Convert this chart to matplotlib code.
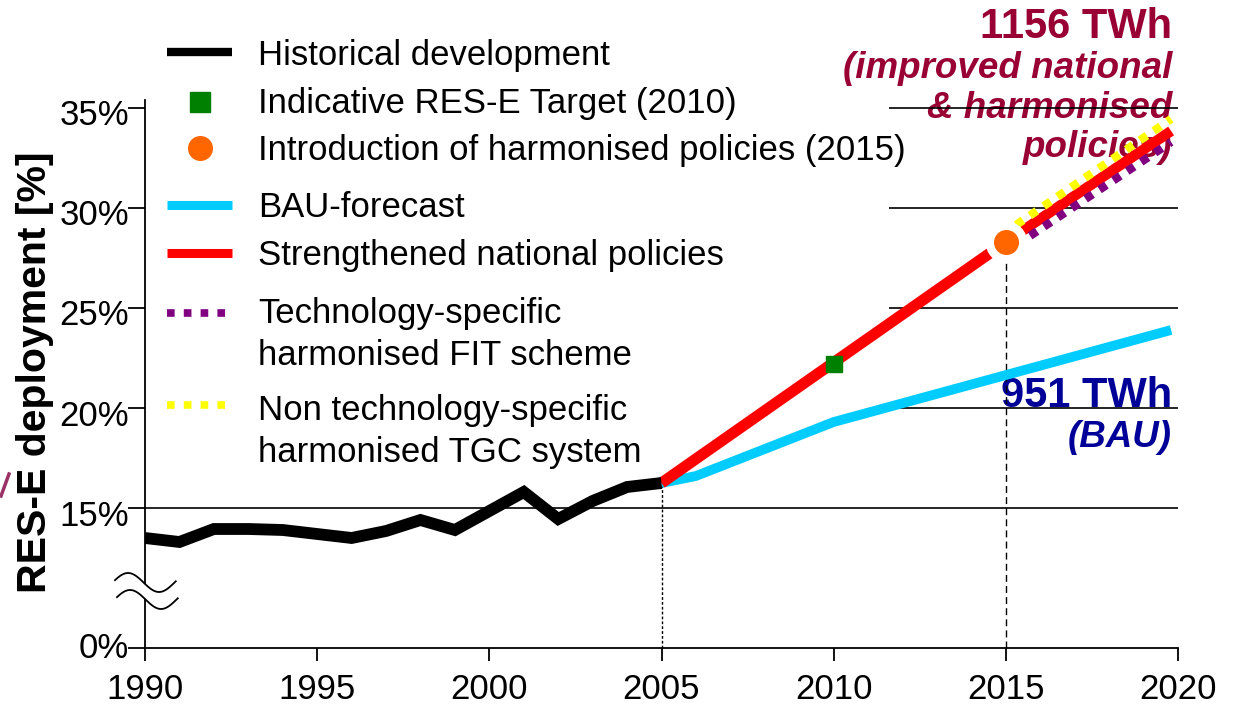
import numpy as np
import matplotlib
matplotlib.use("Agg")
import matplotlib.pyplot as plt
from matplotlib.lines import Line2D
import matplotlib.transforms as mtransforms

plt.rcParams['font.family'] = ['Liberation Sans', 'DejaVu Sans']

# ---------------- data ----------------
hist_years = [1990, 1991, 1992, 1993, 1994, 1995, 1996, 1997, 1998, 1999,
              2000, 2001, 2002, 2003, 2004, 2005]
hist_values = [13.5, 13.3, 13.95, 13.95, 13.9, 13.7, 13.5, 13.85, 14.4, 13.9,
               14.85, 15.8, 14.45, 15.35, 16.05, 16.25]

bau_years = [2005, 2006, 2010, 2019.8]
bau_values = [16.25, 16.6, 19.3, 23.9]

strength_years = [2005, 2015]
strength_values = [16.25, 28.3]

harm_years = [2015, 2019.8]
national_after = [28.3, 33.85]
fit_values = [27.8, 33.3]
tgc_values = [28.8, 34.45]

target_year = [2010]
target_value = [22.2]

intro_year = [2015]
intro_value = [28.3]

xticks = [1990, 1995, 2000, 2005, 2010, 2015, 2020]
ytick_pos = [8, 15, 20, 25, 30, 35]       # 8 = position of 0% after the axis break
ytick_labels = ['0%', '15%', '20%', '25%', '30%', '35%']
grid_levels = [15, 20, 25, 30, 35]
grid_start = [1990, 2011.6, 2011.6, 2011.6, 2011.6]

legend_labels = ['Historical development',
                 'Indicative RES-E Target (2010)',
                 'Introduction of harmonised policies (2015)',
                 'BAU-forecast',
                 'Strengthened national policies',
                 'Technology-specific\nharmonised FIT scheme',
                 'Non technology-specific\nharmonised TGC system']

# ---------------- figure ----------------
W, H = 1236, 710
fig = plt.figure(figsize=(W / 100, H / 100), dpi=100)

def fx(x):
    return x / W

def fy(y):
    return 1 - y / H

ax = fig.add_axes([fx(145), fy(648), (1178 - 145) / W, (648 - 100) / H])
ax.set_xlim(1990, 2020)
ax.set_ylim(8, 35.4)

for s in ['top', 'right']:
    ax.spines[s].set_visible(False)
for s in ['left', 'bottom']:
    ax.spines[s].set_linewidth(1.3)
    ax.spines[s].set_color('black')

ax.set_xticks(xticks)
ax.set_xticklabels([str(x) for x in xticks])
ax.tick_params(axis='x', length=9, width=1.3, pad=9, labelsize=25, direction='out')
ax.set_yticks(ytick_pos)
ax.set_yticklabels([])
ax.tick_params(axis='y', length=12, width=1.3, direction='out')

# y tick labels (shifted like the reference)
for p, lab in zip(ytick_pos, ytick_labels):
    dy = 0 if p == 8 else -8 / 100
    off = mtransforms.ScaledTranslation(-16 / 100, dy, fig.dpi_scale_trans)
    ax.text(0, p, lab, transform=ax.get_yaxis_transform() + off,
            ha='right', va='center', fontsize=25, clip_on=False)

# gridlines
for lvl, xs in zip(grid_levels, grid_start):
    ax.plot([xs, 2020], [lvl, lvl], color='black', lw=1.2, zorder=2,
            solid_capstyle='butt')

# vertical guide lines
ax.plot([hist_years[-1]] * 2, [8, hist_values[-1]], color='black', lw=1,
        linestyle=(0, (2, 1.5)), zorder=2)
ax.plot([intro_year[0]] * 2, [8, intro_value[0]], color='black', lw=1,
        linestyle=(0, (5, 3)), zorder=2)

# series
ax.plot(bau_years, bau_values, color='#00CCFF', lw=7, zorder=3,
        solid_capstyle='butt')
ax.plot(strength_years, strength_values, color='#FF0000', lw=8, zorder=4,
        solid_capstyle='butt')
ax.plot(harm_years, national_after, color='#FF0000', lw=7.5, zorder=4,
        solid_capstyle='butt')
ax.plot(harm_years, fit_values, color='#800080', lw=6, zorder=5,
        linestyle=(0.5, (1, 1)), dash_capstyle='butt')
ax.plot(harm_years, tgc_values, color='#FFFF00', lw=6, zorder=5,
        linestyle=(0.5, (1, 1)), dash_capstyle='butt')
ax.plot(hist_years, hist_values, color='black', lw=8.5, zorder=6,
        solid_capstyle='butt', solid_joinstyle='miter')

ax.plot(target_year, target_value, linestyle='none', marker='s', ms=12,
        color='#008000', zorder=7)
ax.plot(intro_year, intro_value, linestyle='none', marker='o', ms=29,
        color='white', zorder=7)
ax.plot(intro_year, intro_value, linestyle='none', marker='o', ms=17,
        color='#FF6600', zorder=8)

# axis break symbol (drawn in figure pixels)
t = np.linspace(0, 0.98, 80)
bx = 115 + 62 * t
by1 = 582.5 - 9.5 * np.sin(2 * np.pi * t + 0.25)
by2 = by1 + 17
fig.patches.append(plt.Polygon(
    np.column_stack([np.concatenate([fx(bx), fx(bx[::-1] + 2)]),
                     np.concatenate([fy(by1), fy(by2[::-1])])]),
    closed=True, facecolor='white', edgecolor='none',
    transform=fig.transFigure, zorder=10))
fig.add_artist(Line2D(fx(bx), fy(by1), color='black', lw=1.3, zorder=11))
fig.add_artist(Line2D(fx(bx + 2), fy(by2), color='black', lw=1.3, zorder=11))

# y label
fig.text(fx(35), fy(372), 'RES-E deployment [%]', rotation=90, ha='center',
         va='center', fontsize=29.5, fontweight='bold')

# stray mark at the left edge
fig.add_artist(Line2D([fx(1), fx(9)], [fy(496), fy(474)], color='#993366',
                      lw=2.5))

# legend (manual)
hx0, hx1, tx = 167, 232, 258
fig.add_artist(Line2D([fx(hx0), fx(hx1)], [fy(52)] * 2, color='black', lw=6,
                      solid_capstyle='butt'))
fig.add_artist(Line2D([fx(200)], [fy(102)], marker='s', ms=14, color='#008000',
                      linestyle='none'))
fig.add_artist(Line2D([fx(200)], [fy(148)], marker='o', ms=17, color='#FF6600',
                      linestyle='none'))
fig.add_artist(Line2D([fx(hx0), fx(hx1)], [fy(205)] * 2, color='#00CCFF', lw=6.5,
                      solid_capstyle='butt'))
fig.add_artist(Line2D([fx(hx0), fx(hx1)], [fy(253)] * 2, color='#FF0000', lw=6.5,
                      solid_capstyle='butt'))
fig.add_artist(Line2D([fx(hx0), fx(hx1)], [fy(313)] * 2, color='#800080', lw=5.5,
                      linestyle=(0, (1, 1.2)), dash_capstyle='butt'))
fig.add_artist(Line2D([fx(hx0), fx(hx1)], [fy(405)] * 2, color='#FFFF00', lw=5.5,
                      linestyle=(0, (1, 1.2)), dash_capstyle='butt'))

baselines = [65, 113, 160, 217, 265, 323, 420]
for lab, b in zip(legend_labels, baselines):
    lines = lab.split('\n')
    for i, ln in enumerate(lines):
        fig.text(fx(tx), fy(b + i * 42), ln, fontsize=25, ha='left',
                 va='baseline')

# annotations
crim = '#990033'
fig.text(fx(1172), fy(38), '1156 TWh', color=crim, fontsize=30,
         fontweight='bold', ha='right', va='baseline', zorder=1)
for txt, b in zip(['(improved national', '& harmonised', 'policies)'],
                  [78, 118, 157]):
    fig.text(fx(1172), fy(b), txt, color=crim, fontsize=26.5,
             fontweight='bold', fontstyle='italic', ha='right', va='baseline',
             zorder=1)
navy = '#000099'
fig.text(fx(1172), fy(407), '951 TWh', color=navy, fontsize=30,
         fontweight='bold', ha='right', va='baseline', zorder=1)
fig.text(fx(1172), fy(447), '(BAU)', color=navy, fontsize=26.5,
         fontweight='bold', fontstyle='italic', ha='right', va='baseline',
         zorder=1)

ax.set_zorder(2)
ax.patch.set_alpha(0)

fig.savefig('out.png', dpi=100)
